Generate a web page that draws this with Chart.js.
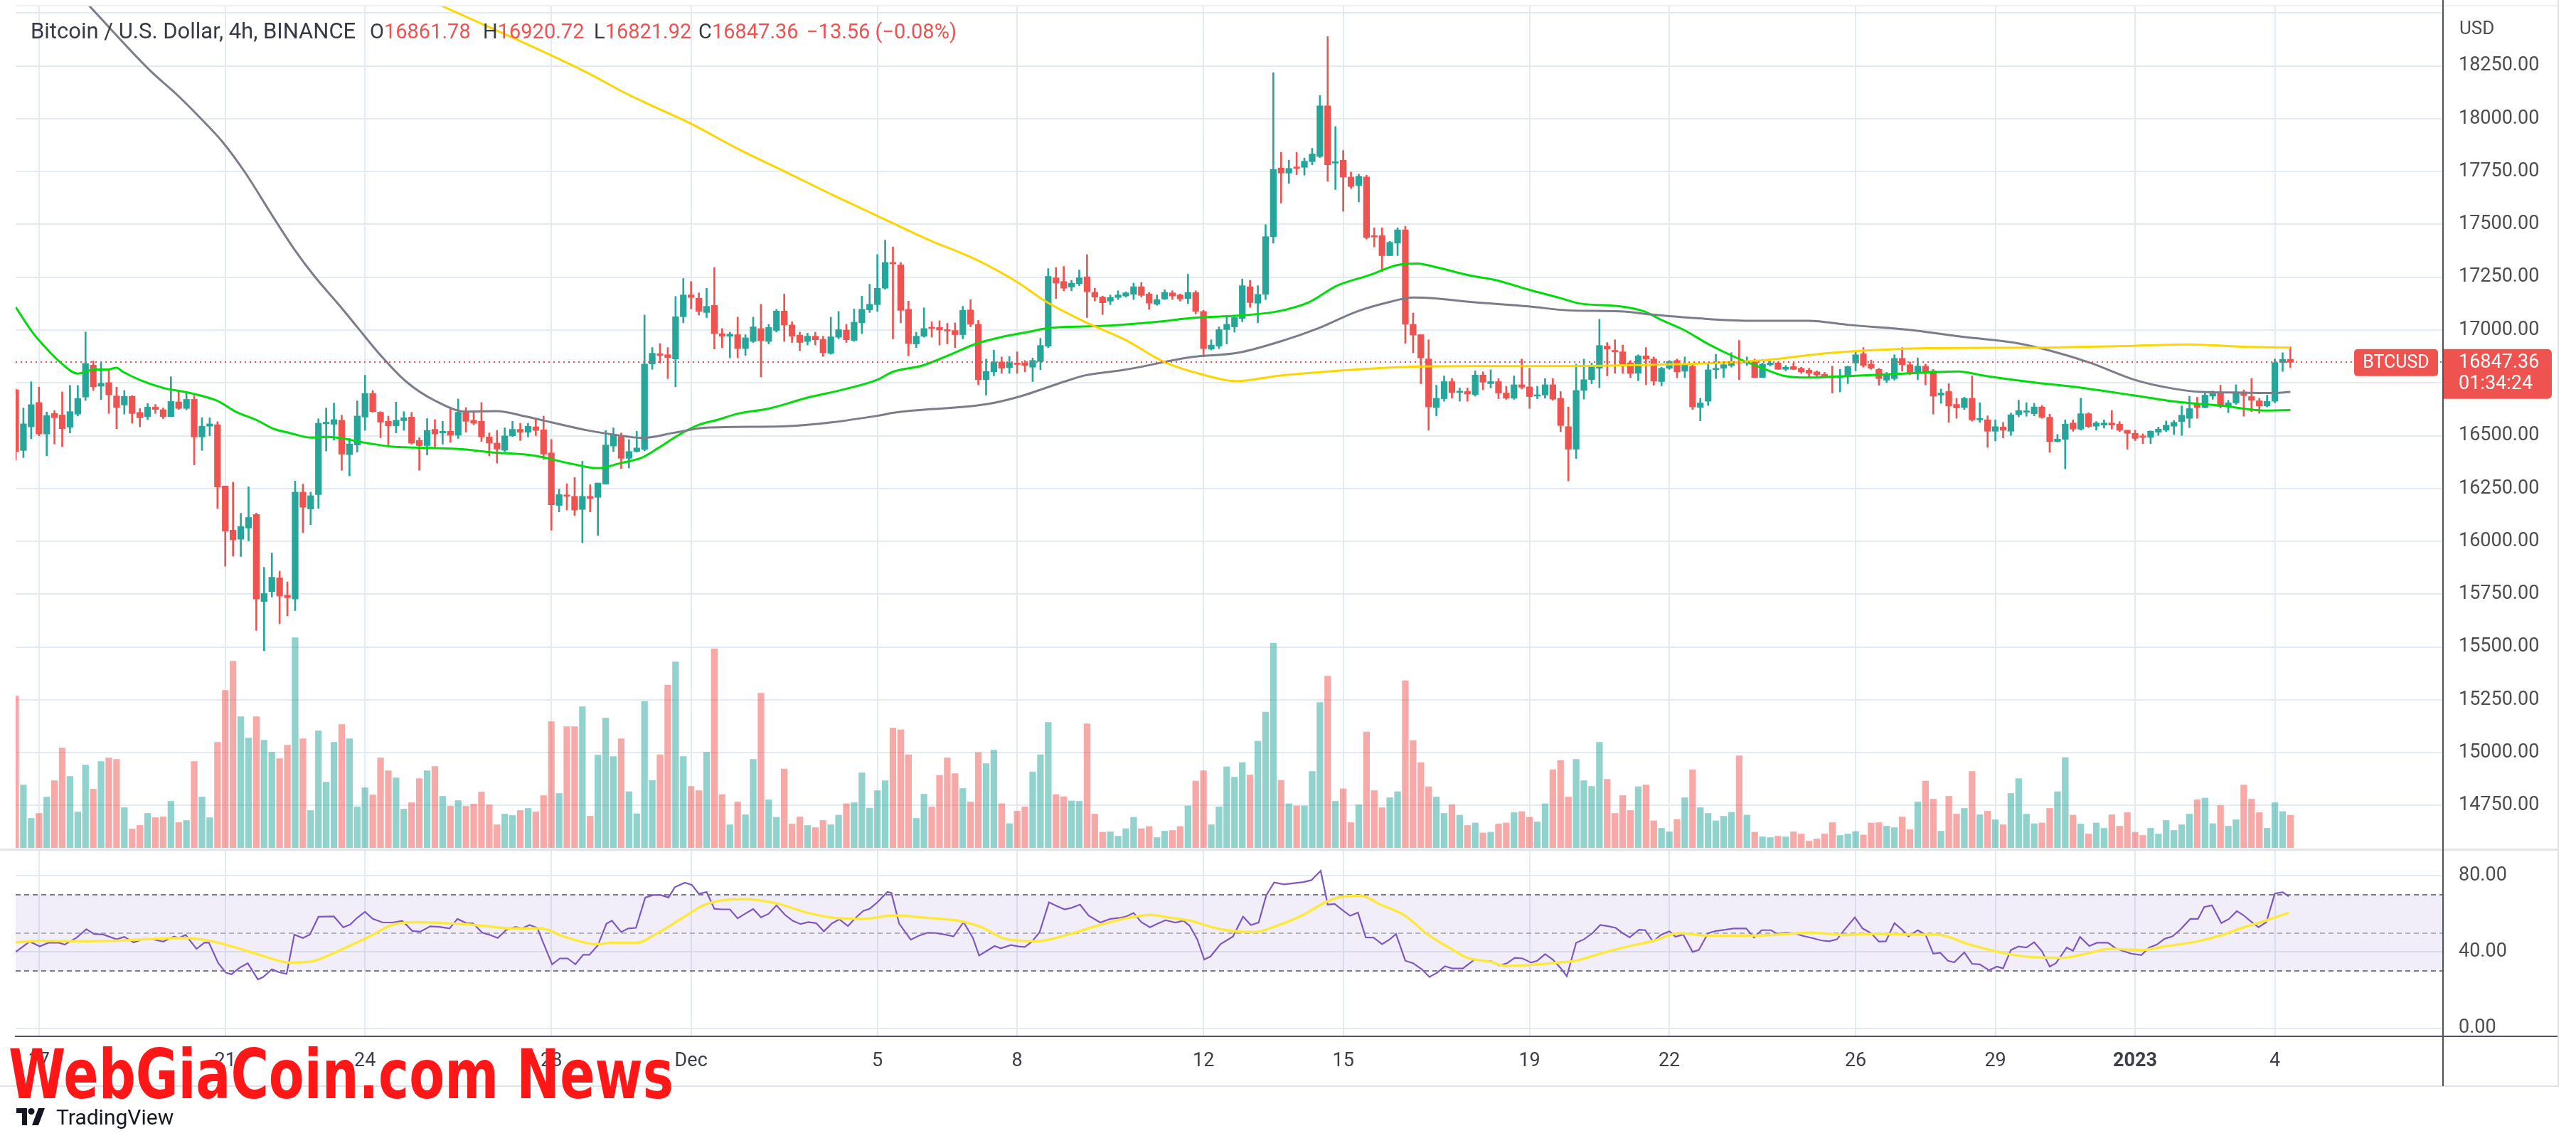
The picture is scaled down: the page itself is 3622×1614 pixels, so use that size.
<!DOCTYPE html>
<html lang="en">
<head>
<meta charset="utf-8">
<title>Bitcoin / U.S. Dollar, 4h, BINANCE</title>
<script src="https://cdn.jsdelivr.net/npm/chart.js@4.4.1/dist/chart.umd.min.js"></script>
<style>
  html, body { margin:0; padding:0; background:#fff; }
  body { width:3622px; height:1614px; position:relative; overflow:hidden; font-family: Roboto, 'DejaVu Sans', sans-serif; }
  canvas { position:absolute; left:0; }
  #priceCanvas { top:0; }
  #rsiCanvas { top:1190px; }
  .legend { position:absolute; top:26px; height:36px; line-height:36px; font-size:29px; color:#363a45; white-space:nowrap; }
  .legend.title { font-size:31px; }
  .legend .v { color:#ef5350; }
  .ln { position:absolute; }
  #usd { position:absolute; left:3458px; top:24px; font-size:26px; line-height:30px; color:#4d4d4d; }
  #watermark { position:absolute; left:12px; top:1462px; font-family:'Liberation Sans Narrow','DejaVu Sans Condensed',sans-serif; font-weight:bold; font-size:97px; line-height:97px; color:#ff1717; white-space:nowrap; transform-origin:0 0; }
  #tvlogo { position:absolute; left:23px; top:1554px; height:32px; display:flex; align-items:center; gap:8px; font-size:30px; color:#131722; white-space:nowrap; }
</style>
</head>
<body>
<canvas id="priceCanvas" width="3622" height="1196"></canvas>
<canvas id="rsiCanvas" width="3622" height="424"></canvas>

<div id="legend"></div>
<div id="usd">USD</div>

<div class="ln" style="left:22px;top:7px;width:3575px;height:2px;background:#edf0f5"></div>
<div class="ln" style="left:0;top:1193px;width:3597px;height:3px;background:#e0e3eb"></div>
<div class="ln" style="left:3596px;top:0;width:2px;height:1528px;background:#e0e3eb"></div>
<div class="ln" style="left:0;top:1526px;width:3598px;height:2px;background:#e0e3eb"></div>
<div class="ln" style="left:3434px;top:0;width:2px;height:1527px;background:#50535e"></div>
<div class="ln" style="left:3435px;top:1456px;width:161px;height:2px;background:#50535e"></div>

<div id="watermark">WebGiaCoin.com News</div>
<div id="tvlogo">
  <svg width="48" height="24" viewBox="0 0 48 24"><path d="M0 0h15v24H8V7H0z" fill="#131722"/><circle cx="21" cy="4.5" r="4.5" fill="#131722"/><path d="M31 0h9l-9 24h-9z" fill="#131722"/></svg>
  <span>TradingView</span>
</div>

<script>
// ---------------- DATA (4h candles, index 0 = 16 Nov 2022 12:00) ----------------
const candleOpen = [
16717,16430,16542,16657,16508,16605,16598,16540,16602,16683,
16834,16734,16751,16688,16645,16686,16610,16590,16635,16623,
16590,16660,16629,16672,16494,16545,16552,16262,16053,16010,
16063,16127,15715,15762,15827,15745,15727,16233,16153,16221,
16556,16554,16573,16410,16456,16588,16700,16611,16568,16547,
16571,16588,16477,16453,16530,16513,16521,16502,16611,16573,
16568,16494,16465,16431,16499,16530,16516,16542,16528,16418,
16170,16216,16213,16151,16213,16208,16271,16451,16496,16393,
16425,16435,16839,16888,16883,16863,17063,17166,17151,17083,
17117,16983,16971,16978,16912,16946,17007,16946,16998,17090,
17024,16976,16946,16971,16956,16890,16966,17000,16951,17034,
17095,17120,17198,17320,17308,17098,16934,16971,17012,17012,
17002,16998,16978,17095,17027,16765,16802,16849,16822,16844,
16844,16824,16851,16924,17247,17230,17203,17220,17252,17178,
17156,17137,17154,17161,17169,17205,17171,17122,17147,17176,
17166,17149,17178,17088,16910,16924,17002,17015,17054,17205,
17127,17169,17442,17767,17743,17772,17770,17797,17821,18061,
17790,17804,17724,17684,17724,17447,17447,17352,17411,17474,
17027,16978,16863,16633,16675,16756,16704,16709,16694,16787,
16746,16756,16702,16677,16741,16731,16687,16692,16741,16677,
16543,16436,16714,16765,16819,16924,16902,16897,16844,16795,
16878,16863,16756,16819,16856,16805,16829,16634,16663,16812,
16819,16832,16849,16844,16849,16775,16836,16844,16814,16827,
16819,16810,16802,16790,16780,16775,16783,16844,16888,16839,
16814,16763,16770,16866,16836,16795,16829,16807,16692,16709,
16648,16633,16677,16575,16575,16521,16541,16521,16599,16611,
16604,16636,16587,16472,16482,16560,16531,16604,16545,16550,
16560,16555,16526,16511,16499,16492,16516,16526,16545,16567,
16582,16648,16633,16687,16702,16638,16655,16707,16685,16665,
16641,16663,16846,16861.78];

const candleHigh = [
16722,16631,16755,16730,16612,16619,16707,16738,16738,16991,
16854,16846,16813,16730,16714,16690,16628,16652,16648,16631,
16779,16714,16702,16690,16585,16585,16566,16262,16280,16133,
16258,16134,15877,15945,15859,15808,16285,16271,16233,16580,
16631,16654,16597,16487,16665,16786,16714,16614,16593,16659,
16614,16611,16491,16581,16576,16568,16636,16674,16633,16619,
16657,16513,16525,16537,16568,16559,16559,16576,16593,16482,
16247,16273,16302,16379,16268,16276,16525,16537,16513,16482,
16521,17071,16917,16936,16917,17159,17244,17230,17176,17198,
17296,17007,16990,17061,16978,17061,17122,17027,17098,17171,
17039,16990,16985,16990,16971,17061,17088,17027,17100,17161,
17217,17357,17425,17393,17320,17137,16990,17105,17039,17044,
17032,17034,17112,17144,17046,16863,16905,16873,16875,16897,
16856,16868,16961,17291,17296,17301,17235,17284,17357,17198,
17161,17166,17186,17181,17222,17225,17178,17166,17191,17186,
17171,17264,17186,17093,16954,17015,17063,17063,17242,17235,
17210,17499,18218,17841,17804,17841,17814,17860,18110,18389,
17963,17850,17748,17738,17733,17484,17484,17420,17484,17491,
17081,16978,16954,16739,16783,16770,16726,16726,16807,16802,
16812,16770,16734,16783,16863,16819,16734,16770,16770,16709,
16636,16839,16863,16844,17051,16941,16954,16929,16856,16883,
16917,16873,16824,16856,16863,16873,16836,16677,16844,16885,
16849,16893,16951,16873,16863,16844,16851,16849,16832,16844,
16824,16819,16807,16800,16829,16814,16829,16897,16917,16858,
16819,16800,16883,16917,16849,16868,16839,16814,16721,16746,
16677,16682,16783,16656,16594,16575,16563,16607,16668,16656,
16653,16643,16602,16506,16575,16575,16677,16609,16567,16575,
16619,16567,16526,16526,16509,16523,16541,16570,16572,16641,
16687,16682,16702,16712,16739,16668,16741,16717,16770,16677,
16692,16863,16893,16920.72];

const candleLow = [
16384,16396,16485,16500,16405,16460,16448,16513,16594,16667,
16714,16671,16605,16533,16602,16559,16542,16576,16605,16581,
16590,16624,16622,16362,16430,16500,16156,15882,15930,15928,
16002,15578,15483,15736,15610,15647,15672,16041,16079,16156,
16427,16479,16336,16310,16422,16525,16611,16490,16456,16513,
16525,16460,16336,16408,16439,16460,16468,16487,16516,16551,
16473,16405,16370,16425,16496,16477,16494,16500,16388,16053,
16139,16148,16122,15993,16139,16028,16271,16425,16345,16347,
16422,16428,16814,16844,16770,16731,17034,17100,17071,17059,
16910,16917,16868,16868,16880,16941,16778,16934,16990,16946,
16941,16902,16929,16929,16875,16885,16958,16941,16946,16983,
17083,17088,17193,16958,17034,16878,16917,16966,16966,16929,
16934,16917,16958,17015,16741,16692,16783,16795,16795,16795,
16802,16756,16812,16917,17149,17186,17186,17210,17059,17137,
17073,17120,17144,17156,17144,17156,17098,17117,17144,17144,
17137,17125,17076,16873,16905,16912,16934,16990,17039,17107,
17034,17144,17411,17601,17694,17735,17733,17782,17816,17704,
17665,17562,17670,17606,17430,17393,17276,17352,17352,16937,
16892,16746,16526,16594,16663,16677,16663,16663,16687,16717,
16726,16675,16672,16672,16721,16629,16675,16677,16668,16519,
16286,16392,16673,16746,16727,16783,16795,16795,16775,16760,
16741,16739,16736,16814,16775,16775,16624,16570,16643,16770,
16775,16824,16765,16832,16775,16775,16829,16814,16807,16812,
16795,16775,16775,16775,16702,16707,16746,16807,16824,16814,
16739,16751,16763,16805,16788,16765,16741,16602,16653,16563,
16582,16624,16568,16563,16445,16475,16489,16501,16589,16592,
16594,16582,16421,16470,16343,16521,16526,16538,16526,16536,
16531,16519,16436,16477,16462,16462,16501,16519,16506,16501,
16538,16582,16631,16672,16631,16609,16648,16592,16614,16606,
16636,16655,16804,16821.92];

const candleClose = [
16425,16556,16647,16508,16595,16585,16533,16614,16676,16842,
16731,16748,16693,16633,16686,16605,16585,16635,16624,16590,
16662,16629,16672,16494,16545,16556,16257,16048,16007,16070,
16113,15727,15753,15830,15741,15733,16233,16161,16216,16559,
16564,16576,16413,16461,16593,16700,16614,16564,16547,16573,
16585,16465,16453,16525,16508,16521,16502,16611,16568,16559,
16494,16465,16436,16499,16530,16516,16545,16525,16413,16173,
16221,16213,16148,16213,16203,16276,16456,16506,16393,16425,
16442,16839,16890,16880,16870,17063,17166,17154,17088,17112,
16983,16971,16981,16912,16963,17015,16949,17012,17090,17024,
16971,16941,16971,16954,16892,16968,17002,16954,17037,17098,
17122,17198,17320,17313,17093,16936,16971,17007,17007,17000,
16995,16978,17093,17027,16765,16804,16849,16819,16846,16837,
16832,16856,16927,17254,17222,17198,17222,17247,17181,17156,
17129,17154,17166,17176,17205,17164,17127,17144,17178,17161,
17147,17178,17088,16912,16929,17002,17027,17059,17210,17130,
17169,17442,17760,17743,17765,17765,17799,17833,18061,17782,
17797,17724,17679,17728,17438,17440,17352,17415,17474,17027,
16976,16868,16636,16677,16756,16704,16709,16697,16787,16753,
16756,16702,16677,16741,16729,16685,16692,16741,16673,16548,
16436,16714,16765,16827,16927,16910,16897,16839,16795,16878,
16863,16758,16819,16851,16802,16834,16636,16655,16812,16819,
16836,16849,16844,16853,16775,16839,16844,16814,16824,16814,
16802,16795,16787,16775,16775,16783,16827,16883,16832,16819,
16770,16792,16866,16836,16795,16829,16795,16687,16702,16641,
16631,16677,16575,16582,16521,16543,16526,16599,16619,16616,
16636,16587,16472,16484,16555,16531,16604,16543,16560,16560,
16550,16526,16511,16487,16492,16521,16531,16550,16563,16597,
16628,16633,16692,16702,16638,16655,16707,16690,16668,16641,
16663,16846,16861.78,16847.36];

// volume, thousand BTC
const volumes = [
42.7,17.7,8.3,9.7,14.3,18.9,28.1,20.1,10.1,23.3,
16.5,24.3,25.3,24.9,11.3,5.3,6.3,9.7,8.5,8.7,
13.1,7.1,7.7,24.3,14.3,8.5,29.7,44.3,52.5,36.9,
30.9,36.9,30.3,26.9,25.1,28.9,59.1,30.7,10.5,32.9,
18.5,29.7,34.7,30.7,11.5,16.9,14.9,25.3,21.7,19.7,
10.9,12.7,19.5,21.7,22.9,14.5,11.7,13.3,11.7,12.3,
15.7,12.1,6.5,9.5,9.1,10.5,11.1,10.1,14.7,35.5,
15.3,34.1,34.1,39.7,8.9,26.1,36.5,25.7,30.7,15.8,
9.6,41.2,19.0,26.2,45.8,52.3,25.7,17.3,16.1,26.9,
56.0,15.0,6.5,12.9,9.3,24.9,43.5,13.5,8.6,22.2,
6.7,8.7,6.3,5.7,7.7,6.5,9.2,12.4,12.7,21.1,
11.2,16.1,18.9,33.7,33.2,26.2,8.3,15.1,11.5,20.4,
25.3,20.9,16.7,12.9,26.8,23.7,27.5,12.4,6.8,10.3,
11.5,21.4,26.2,35.3,15.0,14.4,13.2,13.1,34.9,9.5,
4.4,4.5,3.3,5.4,8.6,5.4,6.0,2.9,4.7,4.9,
6.0,11.8,18.8,21.7,6.5,11.5,22.8,19.9,24.0,20.5,
30.0,38.2,57.6,19.0,12.4,11.8,11.8,21.5,40.9,48.3,
13.1,16.6,7.1,12.1,32.6,16.1,11.3,14.1,15.8,47.0,
30.2,24.0,17.2,14.3,9.7,12.1,9.2,6.3,7.0,4.2,
4.4,6.7,7.0,9.9,10.2,8.6,7.3,12.4,22.0,24.6,
14.3,24.9,18.9,17.3,29.7,19.3,9.7,14.7,10.5,17.2,
17.7,7.6,5.5,4.5,8.0,14.1,22.0,11.3,9.7,7.6,
8.9,10.0,25.9,9.2,4.4,3.1,2.9,3.3,3.1,4.5,
3.9,1.9,2.5,3.9,7.1,3.5,3.9,4.6,3.6,7.0,
7.1,6.1,5.7,8.7,5.1,12.9,18.8,13.7,4.7,14.5,
9.5,11.1,21.5,9.3,10.3,7.9,6.5,15.3,19.5,9.5,
6.8,7.0,11.1,15.8,25.4,9.2,6.7,3.9,7.0,5.5,
9.3,6.1,9.9,4.4,3.5,5.5,3.9,7.7,4.9,6.5,
9.5,13.5,14.0,6.8,11.9,6.1,7.9,17.7,13.7,9.9,
5.5,12.7,10.2,9.2];

// moving averages: [candle index, price]
const maYellow = [[54.85,18535],[73.25,18225],[78.6,18120],[81.7,18066],[86.8,17980],[93.0,17858],[99.2,17748],[105.3,17638],[111.0,17540],[117.1,17435],[123.8,17332],[129.0,17227],[132.6,17137],[137.7,17039],[142.9,16954],[148.0,16848],[153.1,16787],[157.3,16758],[162.5,16783],[167.7,16800],[178.0,16824],[188.2,16829],[198.5,16829],[208.8,16834],[219.1,16844],[226.8,16863],[231.9,16885],[238.0,16902],[246.2,16914],[261.3,16917],[271.4,16924],[279.9,16932],[286.4,16922],[293.0,16917]];
const maGray = [[9.46,18535],[17.46,18223],[20.6,18120],[23.8,18003],[26.7,17888],[29.6,17743],[33.0,17545],[35.9,17382],[38.5,17254],[41.7,17117],[44.0,17014],[46.9,16885],[50.3,16756],[54.0,16666],[58.0,16614],[61.9,16616],[65.8,16590],[69.0,16563],[73.7,16525],[78.6,16497],[80.7,16489],[84.8,16514],[88.9,16538],[99.2,16545],[111.0,16594],[113.1,16609],[124.9,16648],[129.0,16682],[135.1,16756],[137.7,16785],[142.9,16812],[151.6,16873],[157.4,16892],[163.6,16954],[167.7,17007],[172.8,17088],[176.9,17132],[180.0,17154],[183.1,17149],[187.2,17134],[194.9,17112],[200.0,17093],[206.7,17088],[210.8,17073],[216.5,17056],[223.2,17044],[230.9,17044],[236.2,17024],[243.7,17002],[251.2,16966],[257.3,16941],[262.3,16900],[267.3,16844],[272.9,16765],[277.4,16726],[281.4,16707],[286.4,16704],[290.4,16702],[293.0,16707]];
const maGreen = [[0.0,17108],[2.2,16988],[3.8,16919],[5.9,16842],[8.0,16794],[10.1,16813],[11.9,16813],[13.0,16822],[13.8,16803],[16.1,16762],[19.0,16726],[22.7,16700],[25.9,16666],[28.5,16611],[31.1,16573],[33.2,16533],[35.3,16513],[38.0,16491],[40.1,16494],[45.3,16465],[48.5,16448],[51.6,16444],[57.4,16436],[61.1,16422],[66.9,16405],[71.6,16367],[75.0,16346],[77.9,16370],[80.6,16395],[82.7,16440],[85.3,16501],[87.9,16550],[90.4,16575],[93.0,16604],[97.1,16629],[101.7,16677],[106.9,16721],[111.0,16765],[113.1,16804],[116.7,16831],[119.7,16873],[123.8,16936],[126.9,16966],[131.0,16995],[133.1,17010],[140.3,17020],[147.0,17039],[152.1,17059],[157.4,17068],[162.5,17088],[166.6,17132],[170.2,17210],[174.3,17259],[178.0,17308],[180.5,17315],[183.1,17296],[187.2,17259],[190.8,17235],[194.9,17191],[198.5,17156],[201.6,17125],[206.7,17112],[209.8,17088],[211.8,17051],[214.9,17000],[218.0,16934],[221.1,16878],[224.2,16831],[227.8,16783],[230.9,16775],[234.5,16780],[238.0,16785],[243.7,16795],[250.2,16804],[253.7,16783],[260.2,16751],[266.3,16726],[272.9,16690],[278.9,16658],[283.9,16643],[289.9,16619],[293.0,16621]];

// RSI and its moving average: [candle index, value]
const rsiLine = [[0.0,40],[1.8,45.4],[3.1,42.9],[4.3,44.9],[5.6,44.8],[6.3,43.8],[7.9,47.6],[9.1,51.9],[10.1,49.4],[11.3,49.1],[13.0,46.6],[14.0,47.9],[15.2,45],[16.5,46.9],[17.7,46.6],[19.0,45.4],[20.4,48.1],[21.0,47.3],[21.9,48.9],[23.3,41.6],[24.3,44.8],[24.9,44.8],[26.1,34.1],[27.1,29.1],[27.8,28.3],[28.8,31.6],[29.9,34.1],[31.2,25.6],[31.9,26.9],[33.0,30.9],[33.9,29.4],[34.9,28.5],[35.9,49.1],[37.0,47.3],[37.9,49.1],[39.0,58.4],[41.0,58.6],[42.2,52.9],[43.1,54.4],[44.0,57.9],[45.0,61],[46.0,57.3],[47.3,55.4],[48.5,55.4],[49.8,56.3],[51.1,51],[52.1,50.6],[53.4,53.4],[54.6,53.1],[55.9,52.3],[56.9,57.3],[58.1,55],[58.9,55],[60.1,50.1],[61.1,48.9],[62.1,47.3],[63.2,51.6],[64.4,53.1],[65.2,52.3],[66.2,54.1],[67.2,52.6],[67.9,45.4],[69.1,33.5],[70.1,36.6],[71.1,36.6],[72.1,33.5],[73.1,38.5],[73.9,38.5],[75.0,43.5],[76.1,54.8],[76.8,56.4],[78.0,50.4],[78.9,52.3],[79.9,52.6],[81.1,68.5],[82.1,69.8],[83.1,69.8],[84.1,68.5],[84.9,73.9],[86.2,76.3],[87.1,75.1],[88.0,70.4],[89.0,71.4],[90.0,62.6],[91.0,62.3],[92.0,62.3],[93.0,57.6],[94.0,60.1],[95.0,62.5],[96.0,58.1],[97.0,60],[98.0,64.4],[99.1,59.4],[100.1,56.3],[101.1,54.6],[102.1,55.6],[103.1,55.1],[104.1,50.8],[105.1,54.8],[106.1,57.1],[107.2,53.5],[108.2,57.9],[109.2,61.6],[110.0,62.6],[111.0,66],[112.3,71.4],[112.8,70.9],[113.8,54.8],[115.3,46.4],[116.3,48.4],[117.5,50.1],[118.5,49.9],[119.7,49.1],[120.8,48.1],[122.1,55.6],[123.3,47.3],[124.1,38.1],[125.1,40.6],[126.1,43.1],[126.9,41.9],[128.2,43.6],[129.2,42.9],[130.0,42.6],[130.9,45.4],[131.9,50.4],[133.1,66],[133.9,64.4],[135.1,62.3],[136.0,63.1],[137.1,64.8],[138.2,59.1],[139.7,55.4],[141.0,57.3],[142.3,57.9],[143.0,58.5],[144.0,60.4],[145.0,55.6],[146.1,52.9],[147.1,54.8],[148.1,56.6],[149.4,55.4],[150.4,56.4],[151.2,53.8],[152.2,46.6],[153.1,36],[153.9,37.6],[155.2,44.1],[156.8,48.1],[158.1,58.5],[159.1,54.1],[160.1,55.4],[161.1,69.8],[162.1,76.4],[163.4,75.4],[164.7,76],[165.9,76.6],[166.9,77.6],[168.1,82.5],[169.0,64.8],[169.9,65.1],[171.0,61.6],[171.9,58.9],[172.9,60.6],[173.9,47.6],[174.9,47.5],[176.0,44.1],[177.0,46.6],[177.8,49.4],[179.0,35.4],[180.0,34.1],[181.1,31],[182.1,26.9],[183.1,29.1],[184.1,32.5],[185.1,31.3],[186.4,31.3],[187.9,36],[188.9,35.4],[190.1,35.1],[191.1,32.9],[192.1,34.1],[193.1,36.9],[194.1,36.6],[195.2,34.4],[196.0,35.4],[197.0,38.9],[198.0,36],[199.0,31.6],[199.8,27.3],[201.0,44.8],[202.0,46.6],[203.1,49.8],[204.1,54.1],[205.1,53.5],[206.1,52.6],[206.9,50.1],[207.9,47.6],[209.1,51.6],[209.9,51.4],[210.9,45.4],[211.9,48.9],[213.0,50.8],[213.8,47.9],[214.8,49.1],[216.0,40],[216.8,41],[218.0,49.8],[219.0,51],[220.2,51.6],[221.3,52.3],[222.9,52.3],[223.9,47.6],[224.9,51.4],[226.1,51.4],[226.9,49.4],[228.1,50.1],[229.1,49.8],[230.1,48.5],[231.4,47.3],[232.6,46],[233.6,45.6],[234.6,46.6],[235.7,52.3],[236.9,58.1],[237.9,52.3],[239.0,49.8],[240.0,45.4],[240.9,45.6],[242.0,55.1],[243.0,51.6],[243.8,48.1],[245.0,51.4],[246.0,49.1],[247.0,39.1],[247.9,39.6],[248.9,35.4],[249.7,34.5],[251.0,39.8],[252.0,33.8],[253.0,33.5],[254.2,30.4],[255.2,32.3],[256.0,31.4],[257.0,41],[258.0,42.9],[259.0,42.3],[260.0,45.1],[261.0,40.4],[262.0,32.3],[262.8,34.1],[264.2,42.3],[265.0,40.6],[265.9,47.9],[267.1,43.1],[268.1,44.8],[269.5,44.8],[270.5,41.9],[271.5,40.4],[272.5,39.1],[273.8,38.3],[274.8,42.3],[275.8,43.8],[276.8,46.9],[277.8,48.1],[278.8,51.6],[280.1,57.3],[281.1,57.3],[281.9,63.5],[282.9,64.4],[284.1,55.1],[285.1,57.3],[286.1,61.4],[286.9,59.4],[287.9,56],[288.9,52.9],[289.9,55.6],[291.0,70.6],[292.0,71.3],[292.8,69.1]];
const rsiMa = [[0.0,45],[3.5,45.8],[8.1,45.6],[13.2,45.9],[18.2,46.9],[21.8,47.3],[24.8,46],[28.4,42.3],[31.4,38.5],[35.4,34.4],[38.5,35.4],[41.5,40.4],[45.5,47.9],[48.5,54.1],[51.6,55.6],[56.6,54.8],[60.6,53.5],[63.7,52.3],[67.7,52.3],[70.7,47.9],[74.8,44.1],[76.8,44.8],[79.9,44.8],[82.9,50.4],[86.0,58.1],[89.0,65.1],[94.0,67.6],[98.0,65.4],[102.1,60.4],[106.1,57.6],[109.2,57.3],[113.2,59.1],[117.3,57.9],[121.3,56.4],[124.4,52.9],[127.4,46.9],[131.5,45.6],[135.6,49.1],[139.6,54.1],[143.6,58.1],[146.2,59.4],[148.7,57.9],[151.2,56.4],[154.2,52.9],[155.6,51.6],[159.6,50.4],[162.7,54.1],[165.7,59.1],[168.7,66],[170.8,68.9],[173.3,69.4],[175.8,64.8],[178.9,59.1],[181.9,49.1],[184.9,41.6],[187.0,36.9],[190.0,34.8],[192.0,32.6],[196.0,33.5],[199.0,34.5],[201.0,35.4],[204.1,39.1],[207.1,42.3],[211.1,46],[214.2,49.8],[218.2,48.5],[222.2,48.5],[226.3,48.9],[231.3,50.1],[235.4,48.9],[239.4,49.4],[244.4,49.1],[247.5,49.1],[251.5,44.1],[255.6,39.8],[259.6,37.3],[263.6,36.9],[266.7,39.1],[269.7,41.6],[273.8,41],[276.8,42.9],[280.9,45.4],[283.9,48.5],[287.0,52.9],[290.0,56.6],[292.8,60.6]];

// time axis ticks (candle index -> label)
const tickPos  = [3, 27, 45, 69, 87, 111, 129, 153, 171, 195, 213, 237, 255, 273, 291];
const tickText = ['17','21','24','28','Dec','5','8','12','15','19','22','26','29','2023','4'];
const priceTicks = [14750,15000,15250,15500,15750,16000,16250,16500,16750,17000,17250,17500,17750,18000,18250,18500];
const rsiTicks = [0, 40, 80];
const rsiBandLevels = [70, 50, 30];

const symbolName = 'Bitcoin / U.S. Dollar, 4h, BINANCE';
const symbolTag = 'BTCUSD';
const changeText = '\u221213.56 (\u22120.08%)';
const countdownText = '01:34:24';

// ---------------- RENDER ----------------
const UP = '#26a69a', DOWN = '#ef5350';
const N = candleOpen.length;
const last = N - 1;
const lastPrice = candleClose[last];
const idx = candleOpen.map((_, i) => i);
const candleColor = idx.map(i => candleClose[i] >= candleOpen[i] ? UP : DOWN);
const volColor = idx.map(i => candleClose[i] >= candleOpen[i] ? 'rgba(38,166,154,0.5)' : 'rgba(239,83,80,0.5)');
const pts = arr => arr.map(([x, y]) => ({x, y}));

const GRID = '#e3eaf1';
const AXIS_TEXT = '#4d4d4d';
const X_MIN = 0, X_MAX = 312.66;

Chart.defaults.font.family = 'Roboto';

// legend
(function () {
  const f = v => v.toFixed(2);
  const parts = [
    [43, symbolName, 'legend title'],
    [520, 'O<span class="v">' + f(candleOpen[last]) + '</span>', 'legend'],
    [679, 'H<span class="v">' + f(candleHigh[last]) + '</span>', 'legend'],
    [835, 'L<span class="v">' + f(candleLow[last]) + '</span>', 'legend'],
    [982, 'C<span class="v">' + f(candleClose[last]) + '</span>', 'legend'],
    [1134, '<span class="v">' + changeText + '</span>', 'legend']
  ];
  const host = document.getElementById('legend');
  parts.forEach(([x, html, cls]) => {
    const d = document.createElement('div');
    d.className = cls; d.style.left = x + 'px'; d.innerHTML = html;
    host.appendChild(d);
  });
})();

const noPad = s => { s.paddingTop = 0; s.paddingBottom = 0; s.paddingLeft = 0; s.paddingRight = 0; };

const xScaleBase = {
  type: 'linear', min: X_MIN, max: X_MAX, offset: false,
  grid: { color: GRID, lineWidth: 2, drawTicks: false, offset: false },
  afterBuildTicks: s => { s.ticks = tickPos.map(v => ({value: v})); }
};

const lastPricePlugin = {
  id: 'lastPrice',
  afterDatasetsDraw(chart) {
    const {ctx, chartArea: a, scales: {y}} = chart;
    const py = Math.round(y.getPixelForValue(lastPrice));
    ctx.save();
    ctx.strokeStyle = '#ef5350'; ctx.lineWidth = 2; ctx.setLineDash([2, 5]);
    ctx.beginPath(); ctx.moveTo(a.left, py); ctx.lineTo(a.right, py); ctx.stroke();
    ctx.restore();
  },
  afterDraw(chart) {
    const {ctx, chartArea: a, scales: {y}} = chart;
    const py = y.getPixelForValue(lastPrice);
    ctx.save();
    ctx.fillStyle = '#ef5350';
    ctx.beginPath(); ctx.roundRect(a.right - 125, py - 18.5, 118, 38, 5); ctx.fill();
    ctx.beginPath(); ctx.roundRect(a.right, py - 18.5, 153, 70, [0, 6, 6, 0]); ctx.fill();
    ctx.fillStyle = '#ffffff'; ctx.textBaseline = 'middle';
    ctx.font = '25px Roboto'; ctx.textAlign = 'center';
    ctx.fillText(symbolTag, a.right - 66, py + 1);
    ctx.font = '27px Roboto'; ctx.textAlign = 'left';
    ctx.fillText(lastPrice.toFixed(2), a.right + 22, py + 1);
    ctx.fillText(countdownText, a.right + 22, py + 31);
    ctx.restore();
  }
};

new Chart(document.getElementById('priceCanvas'), {
  type: 'bar',
  data: {
    datasets: [
      { type: 'line', label: 'MA long', data: pts(maYellow), borderColor: '#fdd600', borderWidth: 3, pointRadius: 0, cubicInterpolationMode: 'monotone', yAxisID: 'y', order: 0, clip: 0 },
      { type: 'line', label: 'MA mid', data: pts(maGray), borderColor: '#7b7e8a', borderWidth: 3, pointRadius: 0, cubicInterpolationMode: 'monotone', yAxisID: 'y', order: 0, clip: 0 },
      { type: 'line', label: 'MA short', data: pts(maGreen), borderColor: '#00dc0a', borderWidth: 3, pointRadius: 0, cubicInterpolationMode: 'monotone', yAxisID: 'y', order: 0, clip: 0 },
      { label: 'body', data: idx.map(i => ({x: i, y: [candleOpen[i], candleClose[i]]})), backgroundColor: candleColor, barThickness: 8.6, minBarLength: 2, grouped: false, yAxisID: 'y', order: 1 },
      { label: 'wick', data: idx.map(i => ({x: i, y: [candleLow[i], candleHigh[i]]})), backgroundColor: candleColor, barThickness: 2, grouped: false, yAxisID: 'y', order: 2 },
      { label: 'volume', data: idx.map(i => ({x: i, y: volumes[i]})), backgroundColor: volColor, barThickness: 8.6, grouped: false, yAxisID: 'v', order: 3 }
    ]
  },
  options: {
    responsive: false, animation: false, events: [],
    layout: { padding: { left: 22, top: 8, right: 0, bottom: 4 } },
    plugins: { legend: { display: false }, tooltip: { enabled: false } },
    scales: {
      x: Object.assign({}, xScaleBase, { border: { display: false }, ticks: { display: false }, afterFit: s => { s.height = 0; noPad(s); } }),
      y: {
        position: 'right', min: 14549.4, max: 18535,
        grid: { color: GRID, lineWidth: 2, drawTicks: false },
        border: { display: true, color: '#50535e', width: 2 },
        ticks: { padding: 22, color: AXIS_TEXT, font: { size: 27 }, callback: v => v > 18250 ? '' : v.toFixed(2) },
        afterBuildTicks: s => { s.ticks = priceTicks.map(v => ({value: v})); },
        afterFit: s => { s.width = 187; noPad(s); }
      },
      v: { display: false, min: 0, max: 236.8, afterFit: s => { noPad(s); } }
    }
  },
  plugins: [lastPricePlugin]
});

const rsiBandPlugin = {
  id: 'rsiBands',
  beforeDatasetsDraw(chart) {
    const {ctx, chartArea: a, scales: {y}} = chart;
    const [up, mid, lo] = rsiBandLevels.map(v => Math.round(y.getPixelForValue(v)));
    ctx.save();
    ctx.fillStyle = 'rgba(126,87,194,0.1)';
    ctx.fillRect(a.left, up, a.right - a.left, lo - up);
    ctx.lineWidth = 2; ctx.setLineDash([7, 5]);
    ctx.strokeStyle = '#787b86';
    [up, lo].forEach(py => { ctx.beginPath(); ctx.moveTo(a.left, py); ctx.lineTo(a.right, py); ctx.stroke(); });
    ctx.strokeStyle = 'rgba(120,123,134,0.55)';
    ctx.beginPath(); ctx.moveTo(a.left, mid); ctx.lineTo(a.right, mid); ctx.stroke();
    ctx.restore();
  }
};

new Chart(document.getElementById('rsiCanvas'), {
  type: 'line',
  data: {
    datasets: [
      { label: 'RSI MA', data: pts(rsiMa), borderColor: '#fde93d', borderWidth: 3.5, pointRadius: 0, cubicInterpolationMode: 'monotone', order: 0 },
      { label: 'RSI', data: pts(rsiLine), borderColor: '#7e57c2', borderWidth: 2.2, pointRadius: 0, tension: 0, order: 1 }
    ]
  },
  options: {
    responsive: false, animation: false, events: [],
    layout: { padding: { left: 22, top: 5, right: 0, bottom: 0 } },
    plugins: { legend: { display: false }, tooltip: { enabled: false } },
    scales: {
      x: Object.assign({}, xScaleBase, {
        border: { display: true, color: '#50535e', width: 2 },
        ticks: {
          autoSkip: false, maxRotation: 0, padding: 19, color: '#3c3f4a',
          font: c => ({ family: 'Roboto', size: 27, weight: (c.tick && tickText[tickPos.indexOf(c.tick.value)] === '2023') ? 'bold' : 'normal' }),
          callback: v => { const k = tickPos.indexOf(v); return k >= 0 ? tickText[k] : ''; }
        },
        afterFit: s => { s.height = 157; noPad(s); }
      }),
      y: {
        position: 'right', min: -4.2, max: 93.4,
        grid: { color: GRID, lineWidth: 2, drawTicks: false },
        border: { display: true, color: '#50535e', width: 2 },
        ticks: { padding: 22, color: AXIS_TEXT, font: { size: 27 }, callback: v => v.toFixed(2) },
        afterBuildTicks: s => { s.ticks = rsiTicks.map(v => ({value: v})); },
        afterFit: s => { s.width = 187; noPad(s); }
      }
    }
  },
  plugins: [rsiBandPlugin]
});

// fit watermark width
(function () {
  const wm = document.getElementById('watermark');
  const w = wm.getBoundingClientRect().width;
  if (w > 0) wm.style.transform = 'scaleX(' + (935 / w) + ')';
})();
</script>
</body>
</html>
